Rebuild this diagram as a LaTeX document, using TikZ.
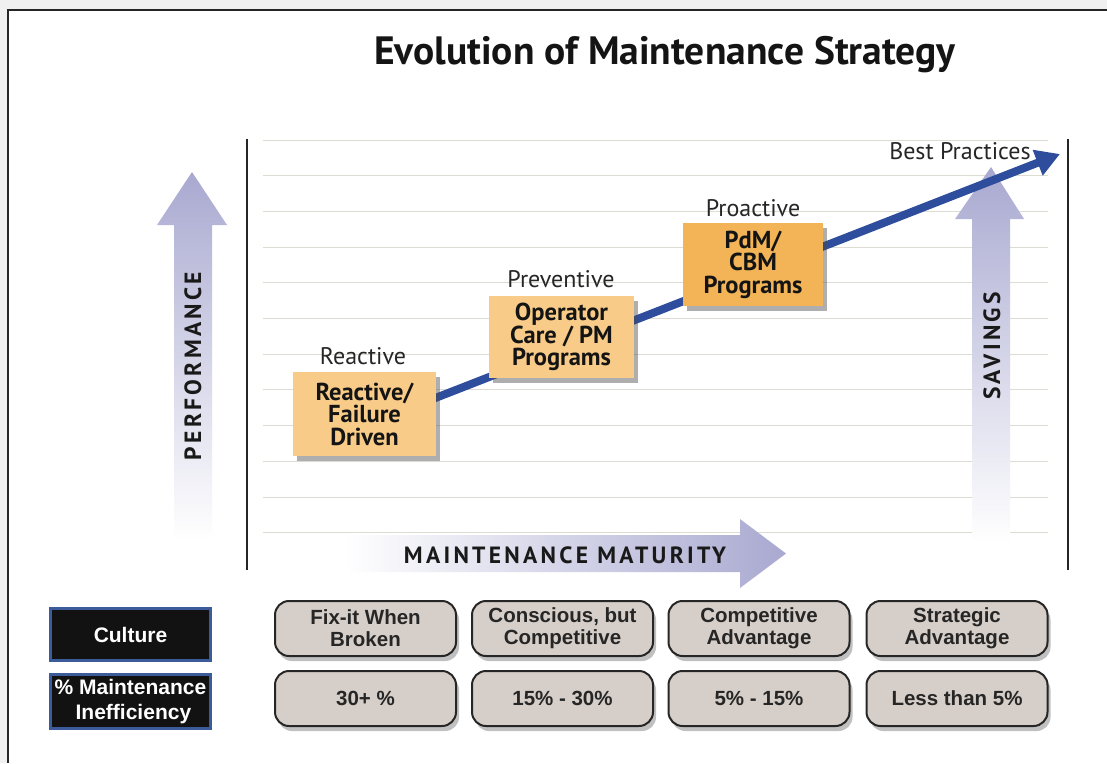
\documentclass[tikz,border=0pt]{standalone}
\usepackage{fontspec}
\setmainfont{PT Sans}
\newfontfamily\arialf{Liberation Sans}
\newfontfamily\spacedf[LetterSpace=14]{PT Sans}
\usetikzlibrary{shadows,arrows.meta}
\definecolor{lav}{HTML}{A9A9D1}
\definecolor{gridc}{HTML}{DCDCD2}
\definecolor{orangeA}{HTML}{F8CC88}
\definecolor{orangeB}{HTML}{F2B456}
\definecolor{blueline}{HTML}{2E4D9C}
\definecolor{cellgray}{HTML}{D6CEC8}
\definecolor{labblue}{HTML}{3B5B9B}
\tikzset{
  gridline/.style={draw=gridc, line width=1pt},
  axisline/.style={draw=black!85, line width=1.6pt},
  stagebox/.style={draw=none, align=center, inner sep=2pt,
    font=\bfseries\fontsize{24.5}{22.5}\selectfont, text=black!92,
    drop shadow={shadow xshift=4pt, shadow yshift=-5pt, opacity=0.45, fill=black!70}},
  stagelabel/.style={font=\fontsize{24}{26}\selectfont, text=black!85},
  rowlabel/.style={fill=black!93, draw=labblue, line width=3pt, align=center,
    minimum width=160pt, text=white, font=\arialf\bfseries\fontsize{21}{24}\selectfont},
  cell/.style={fill=cellgray, draw=black!85, line width=2pt, rounded corners=14pt,
    minimum width=181pt, minimum height=55pt, align=center,
    font=\arialf\bfseries\fontsize{20.5}{22}\selectfont, text=black!85,
    drop shadow={shadow xshift=3pt, shadow yshift=-5pt, opacity=0.35, fill=black!70}},
  axistext/.style={font=\spacedf\bfseries\fontsize{23.5}{25}\selectfont, text=black!90}
}
\begin{document}
\begin{tikzpicture}[x=1pt,y=-1pt]
\useasboundingbox (0,0) rectangle (1107,763);
\fill[black!6] (0,0) rectangle (1107,763);
\fill[white] (8,10) rectangle (1107,763);
\draw[line width=2pt, black!85] (8,763) -- (8,10) -- (1107,10);

% title
\node[font=\bfseries\fontsize{39.5}{44}\selectfont, text=black!92] (title) at (665,55) {Evolution of Maintenance Strategy};

% grid
\foreach \k in {0,...,11}
  \draw[gridline] (263,{140+35.7*\k}) -- (1048,{140+35.7*\k});
\draw[axisline] (247,139) -- (247,570);
\draw[axisline] (1068,139) -- (1068,570);

% performance arrow
\shade[top color=lav, middle color=lav!75, bottom color=white]
  (174,540) -- (174,225) -- (157,225) -- (192,172) -- (227,225) -- (212,225) -- (212,540) -- cycle;
\node[axistext, rotate=90] (perf) at (193,366) {PERFORMANCE};

% savings arrow
\shade[top color=lav, middle color=lav!70, bottom color=white]
  (972,543) -- (972,219) -- (955,219) -- (991,167) -- (1024,219) -- (1010,219) -- (1010,543) -- cycle;
\node[axistext, rotate=90] (sav) at (992,346) {SAVINGS};

% maturity arrow
\shade[left color=white, right color=lav]
  (345,535) -- (740,535) -- (740,519) -- (786,553.5) -- (740,588) -- (740,572) -- (345,572) -- cycle;
\node[axistext] (mat) at (565,555) {MAINTENANCE MATURITY};

% blue trend arrow
\coordinate (bstart) at (420,404);
\coordinate (bend) at (1060,154);
\draw[blueline, line width=8pt, -{Triangle[length=24pt,width=26pt]}] (bstart) -- (bend);

% stage boxes
\node[stagebox, fill=orangeA, minimum width=143pt, minimum height=84pt] (b1) at (364.5,414) {Reactive/\\Failure\\Driven};
\node[stagebox, fill=orangeA, minimum width=145pt, minimum height=82pt] (b2) at (561.5,337) {Operator\\Care / PM\\Programs};
\node[stagebox, fill=orangeB, minimum width=140pt, minimum height=83pt] (b3) at (753,264.5) {PdM/\\CBM\\Programs};

\node[stagelabel] (l1) at (363,356) {Reactive};
\node[stagelabel] (l2) at (561,279) {Preventive};
\node[stagelabel] (l3) at (753,208) {Proactive};
\node[stagelabel] (l4) at (960,151) {Best Practices};

% bottom table
\node[rowlabel, minimum height=52pt] (culture) at (130.5,634.5) {Culture};
\node[rowlabel, minimum height=54pt, font=\arialf\bfseries\fontsize{21}{25}\selectfont] (ineff) at (130.5,701.5) {\% Maintenance\\\ Inefficiency};

\node[cell] (c1) at (365.5,628.5) {Fix-it When\\Broken};
\node[cell] (c2) at (562.5,628.5) {Conscious, but\\Competitive};
\node[cell] (c3) at (759,628.5) {Competitive\\Advantage};
\node[cell] (c4) at (957,628.5) {Strategic\\Advantage};

\node[cell] (d1) at (365.5,698.5) {30+ \%};
\node[cell] (d2) at (562.5,698.5) {15\% - 30\%};
\node[cell] (d3) at (759,698.5) {5\% - 15\%};
\node[cell] (d4) at (957,698.5) {Less than 5\%};
\end{tikzpicture}
\end{document}
